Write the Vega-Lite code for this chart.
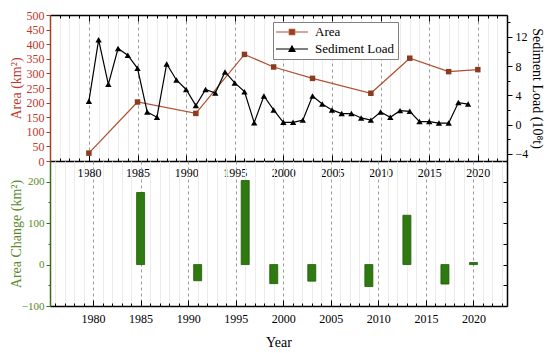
{
  "$schema": "https://vega.github.io/schema/vega-lite/v6.json",
  "padding": {"left": 8, "top": 9, "right": 5, "bottom": 5},
  "spacing": 0,
  "bounds": "flush",
  "datasets": {
    "area": [
      {"year": 1980, "area": 27}, {"year": 1985, "area": 202}, {"year": 1991, "area": 163},
      {"year": 1996, "area": 365}, {"year": 1999, "area": 322}, {"year": 2003, "area": 283},
      {"year": 2009, "area": 232}, {"year": 2013, "area": 352}, {"year": 2017, "area": 306},
      {"year": 2020, "area": 313}
    ],
    "sediment": [
      {"year": 1980, "load": 3.2}, {"year": 1981, "load": 11.6}, {"year": 1982, "load": 5.5},
      {"year": 1983, "load": 10.4}, {"year": 1984, "load": 9.5}, {"year": 1985, "load": 7.7},
      {"year": 1986, "load": 1.7}, {"year": 1987, "load": 1.0}, {"year": 1988, "load": 8.3},
      {"year": 1989, "load": 6.1}, {"year": 1990, "load": 4.8}, {"year": 1991, "load": 2.6},
      {"year": 1992, "load": 4.8}, {"year": 1993, "load": 4.3}, {"year": 1994, "load": 7.2},
      {"year": 1995, "load": 5.7}, {"year": 1996, "load": 4.5}, {"year": 1997, "load": 0.25},
      {"year": 1998, "load": 3.9}, {"year": 1999, "load": 2.0}, {"year": 2000, "load": 0.3},
      {"year": 2001, "load": 0.3}, {"year": 2002, "load": 0.6}, {"year": 2003, "load": 3.9},
      {"year": 2004, "load": 2.8}, {"year": 2005, "load": 2.0}, {"year": 2006, "load": 1.5},
      {"year": 2007, "load": 1.5}, {"year": 2008, "load": 0.9}, {"year": 2009, "load": 0.6},
      {"year": 2010, "load": 1.7}, {"year": 2011, "load": 1.0}, {"year": 2012, "load": 1.9},
      {"year": 2013, "load": 1.8}, {"year": 2014, "load": 0.4}, {"year": 2015, "load": 0.4},
      {"year": 2016, "load": 0.2}, {"year": 2017, "load": 0.2}, {"year": 2018, "load": 3.0},
      {"year": 2019, "load": 2.8}
    ],
    "change": [
      {"year": 1985, "change": 174}, {"year": 1991, "change": -39}, {"year": 1996, "change": 203},
      {"year": 1999, "change": -46}, {"year": 2003, "change": -40}, {"year": 2009, "change": -53},
      {"year": 2013, "change": 119}, {"year": 2017, "change": -47}, {"year": 2020, "change": 5}
    ]
  },
  "vconcat": [
    {
      "width": 457,
      "height": 146,
      "layer": [
        {
          "data": {"name": "area"},
          "mark": {"type": "line", "strokeWidth": 1.2},
          "encoding": {
            "x": {
              "field": "year", "type": "quantitative",
              "scale": {"domain": [1976, 2023], "nice": false, "zero": false},
              "axis": {
                "orient": "bottom", "title": null, "format": "d",
                "values": [1976,1977,1978,1979,1980,1981,1982,1983,1984,1985,1986,1987,1988,1989,1990,1991,1992,1993,1994,1995,1996,1997,1998,1999,2000,2001,2002,2003,2004,2005,2006,2007,2008,2009,2010,2011,2012,2013,2014,2015,2016,2017,2018,2019,2020,2021,2022,2023],
                "labelExpr": "datum.value % 5 === 0 ? datum.label : ''",
                "labelOverlap": false, "labelFlush": false, "labelPadding": 12,
                "tickSize": {"condition": {"test": "datum.value % 5 === 0", "value": -6}, "value": -3},
                "grid": true,
                "gridColor": {"condition": {"test": "datum.value % 5 === 0", "value": "#9a9a9a"}, "value": "#ececec"},
                "gridDash": {"condition": {"test": "datum.value % 5 === 0", "value": [3, 3]}, "value": []},
                "domainWidth": 1.5
              }
            },
            "y": {
              "field": "area", "type": "quantitative",
              "scale": {"domain": [0, 500], "nice": false},
              "axis": {
                "orient": "left", "title": "Area (km²)", "grid": false,
                "values": [0, 50, 100, 150, 200, 250, 300, 350, 400, 450, 500],
                "labelColor": "#c0392b", "titleColor": "#c0392b", "tickColor": "#a0402a",
                "domainColor": "#a0402a", "domainWidth": 1.5, "tickSize": 4, "labelPadding": 2,
                "titleX": -27
              }
            },
            "color": {
              "datum": "Area", "type": "nominal",
              "scale": {"domain": ["Area", "Sediment Load"], "range": ["#b0502f", "#000000"]},
              "legend": {
                "orient": "none", "legendX": 223, "legendY": 7, "title": null,
                "strokeColor": "#808080", "fillColor": "white", "padding": 3,
                "labelFontSize": 13, "rowPadding": 3, "symbolSize": 144,
                "symbolOffset": 9, "labelOffset": 16, "symbolStrokeWidth": 1.2,
                "encode": {
                  "symbols": {
                    "update": {
                      "shape": {"signal": "datum.value === 'Area' ? 'M-2.67,0L2.67,0M-0.45,-0.45L0.45,-0.45L0.45,0.45L-0.45,0.45Z' : 'M-2.67,0L2.67,0M0,-0.5L0.5,0.4L-0.5,0.4Z'"},
                      "fill": {"signal": "datum.value === 'Area' ? '#8b3c1e' : '#000000'"},
                      "stroke": {"signal": "datum.value === 'Area' ? '#b0502f' : '#000000'"},
                      "opacity": {"value": 1}
                    }
                  }
                }
              }
            }
          }
        },
        {
          "data": {"name": "area"},
          "mark": {"type": "point", "shape": "square", "filled": true, "size": 30, "color": "#8b3c1e", "opacity": 1},
          "encoding": {
            "x": {"field": "year", "type": "quantitative", "axis": null},
            "y": {"field": "area", "type": "quantitative", "scale": {"domain": [0, 500], "nice": false}, "axis": null}
          }
        },
        {
          "data": {"name": "sediment"},
          "mark": {"type": "line", "strokeWidth": 1.2},
          "encoding": {
            "x": {
              "field": "year", "type": "quantitative",
              "axis": {
                "orient": "top", "title": null, "labels": false, "grid": false,
                "values": [1976,1977,1978,1979,1980,1981,1982,1983,1984,1985,1986,1987,1988,1989,1990,1991,1992,1993,1994,1995,1996,1997,1998,1999,2000,2001,2002,2003,2004,2005,2006,2007,2008,2009,2010,2011,2012,2013,2014,2015,2016,2017,2018,2019,2020,2021,2022,2023],
                "tickSize": {"condition": {"test": "datum.value % 5 === 0", "value": -6}, "value": -3},
                "domainWidth": 1.5
              }
            },
            "y": {
              "field": "load", "type": "quantitative",
              "scale": {"domain": [-5, 15], "nice": false, "zero": false},
              "axis": {
                "orient": "right", "title": "Sediment Load (10⁸t)", "grid": false,
                "values": [-4, -2, 0, 2, 4, 6, 8, 10, 12, 14],
                "labelExpr": "datum.value % 4 === 0 ? datum.label : ''",
                "labelOverlap": false, "labelPadding": 3,
                "tickSize": {"condition": {"test": "datum.value % 4 === 0", "value": 5}, "value": 3},
                "domainWidth": 1.5, "titleX": 22
              }
            },
            "color": {"datum": "Sediment Load", "type": "nominal"}
          }
        },
        {
          "data": {"name": "sediment"},
          "mark": {"type": "point", "shape": "triangle-up", "filled": true, "size": 40, "color": "#000000", "opacity": 1},
          "encoding": {
            "x": {"field": "year", "type": "quantitative", "axis": null},
            "y": {"field": "load", "type": "quantitative", "scale": {"domain": [-5, 15], "nice": false, "zero": false}, "axis": null}
          }
        },
        {
          "mark": {"type": "text", "text": "(a)", "fontSize": 18, "align": "left", "baseline": "middle"},
          "encoding": {
            "x": {"datum": 1977.1, "type": "quantitative", "axis": null},
            "y": {"datum": 431, "type": "quantitative", "scale": {"domain": [0, 500], "nice": false}, "axis": null}
          }
        }
      ],
      "resolve": {"scale": {"y": "independent"}, "axis": {"x": "independent", "y": "independent"}}
    },
    {
      "width": 457,
      "height": 145,
      "layer": [
        {
          "data": {"name": "change"},
          "mark": {"type": "bar", "width": 8, "color": "#2e7a10", "stroke": "#1f5a08", "strokeWidth": 0.8},
          "encoding": {
            "x": {
              "field": "year", "type": "quantitative",
              "scale": {"domain": [1976, 2023], "nice": false, "zero": false},
              "axis": {
                "orient": "bottom", "title": "Year", "format": "d",
                "values": [1976,1977,1978,1979,1980,1981,1982,1983,1984,1985,1986,1987,1988,1989,1990,1991,1992,1993,1994,1995,1996,1997,1998,1999,2000,2001,2002,2003,2004,2005,2006,2007,2008,2009,2010,2011,2012,2013,2014,2015,2016,2017,2018,2019,2020,2021,2022,2023],
                "labelExpr": "datum.value % 5 === 0 ? datum.label : ''",
                "labelOverlap": false, "labelFlush": false, "labelPadding": 13,
                "tickSize": {"condition": {"test": "datum.value % 5 === 0", "value": -6}, "value": -3},
                "grid": true,
                "gridColor": {"condition": {"test": "datum.value % 5 === 0", "value": "#9a9a9a"}, "value": "#ececec"},
                "gridDash": {"condition": {"test": "datum.value % 5 === 0", "value": [3, 3]}, "value": []},
                "domainWidth": 1.5, "titlePadding": 8
              }
            },
            "y": {
              "field": "change", "type": "quantitative",
              "scale": {"domain": [-100, 250], "nice": false},
              "axis": {
                "orient": "left", "title": "Area Change (km²)", "grid": false,
                "values": [-100, -50, 0, 50, 100, 150, 200],
                "labelExpr": "datum.value % 100 === 0 ? datum.label : ''",
                "labelOverlap": false, "labelPadding": 2, "labelFontSize": 11,
                "labelColor": "#5a8a2a", "titleColor": "#5a8a2a", "tickColor": "#3f6a1a",
                "domainColor": "#3f6a1a", "domainWidth": 1.5,
                "tickSize": {"condition": {"test": "datum.value % 100 === 0", "value": 4}, "value": 2},
                "titleX": -27
              }
            }
          }
        },
        {
          "mark": {"type": "rule", "stroke": "#000000", "strokeWidth": 1.5},
          "encoding": {
            "y": {
              "datum": 0, "type": "quantitative",
              "axis": {
                "orient": "right", "title": null, "labels": false, "grid": false,
                "values": [-100, -50, 0, 50, 100, 150, 200, 250],
                "tickSize": -4, "domainWidth": 1.5
              }
            }
          }
        },
        {
          "mark": {"type": "text", "text": "(b)", "fontSize": 18, "align": "left", "baseline": "middle"},
          "encoding": {
            "x": {"datum": 1977.1, "type": "quantitative", "axis": null},
            "y": {"datum": 193, "type": "quantitative", "axis": null}
          }
        }
      ],
      "resolve": {"axis": {"x": "independent", "y": "independent"}}
    }
  ],
  "config": {
    "font": "Liberation Serif",
    "view": {"stroke": null},
    "axis": {
      "labelFontSize": 12, "titleFontSize": 14, "titleFontWeight": "normal",
      "labelColor": "#000000", "titleColor": "#000000",
      "domainColor": "#000000", "tickColor": "#000000", "tickWidth": 1
    },
    "legend": {"labelFont": "Liberation Serif"}
  }
}
